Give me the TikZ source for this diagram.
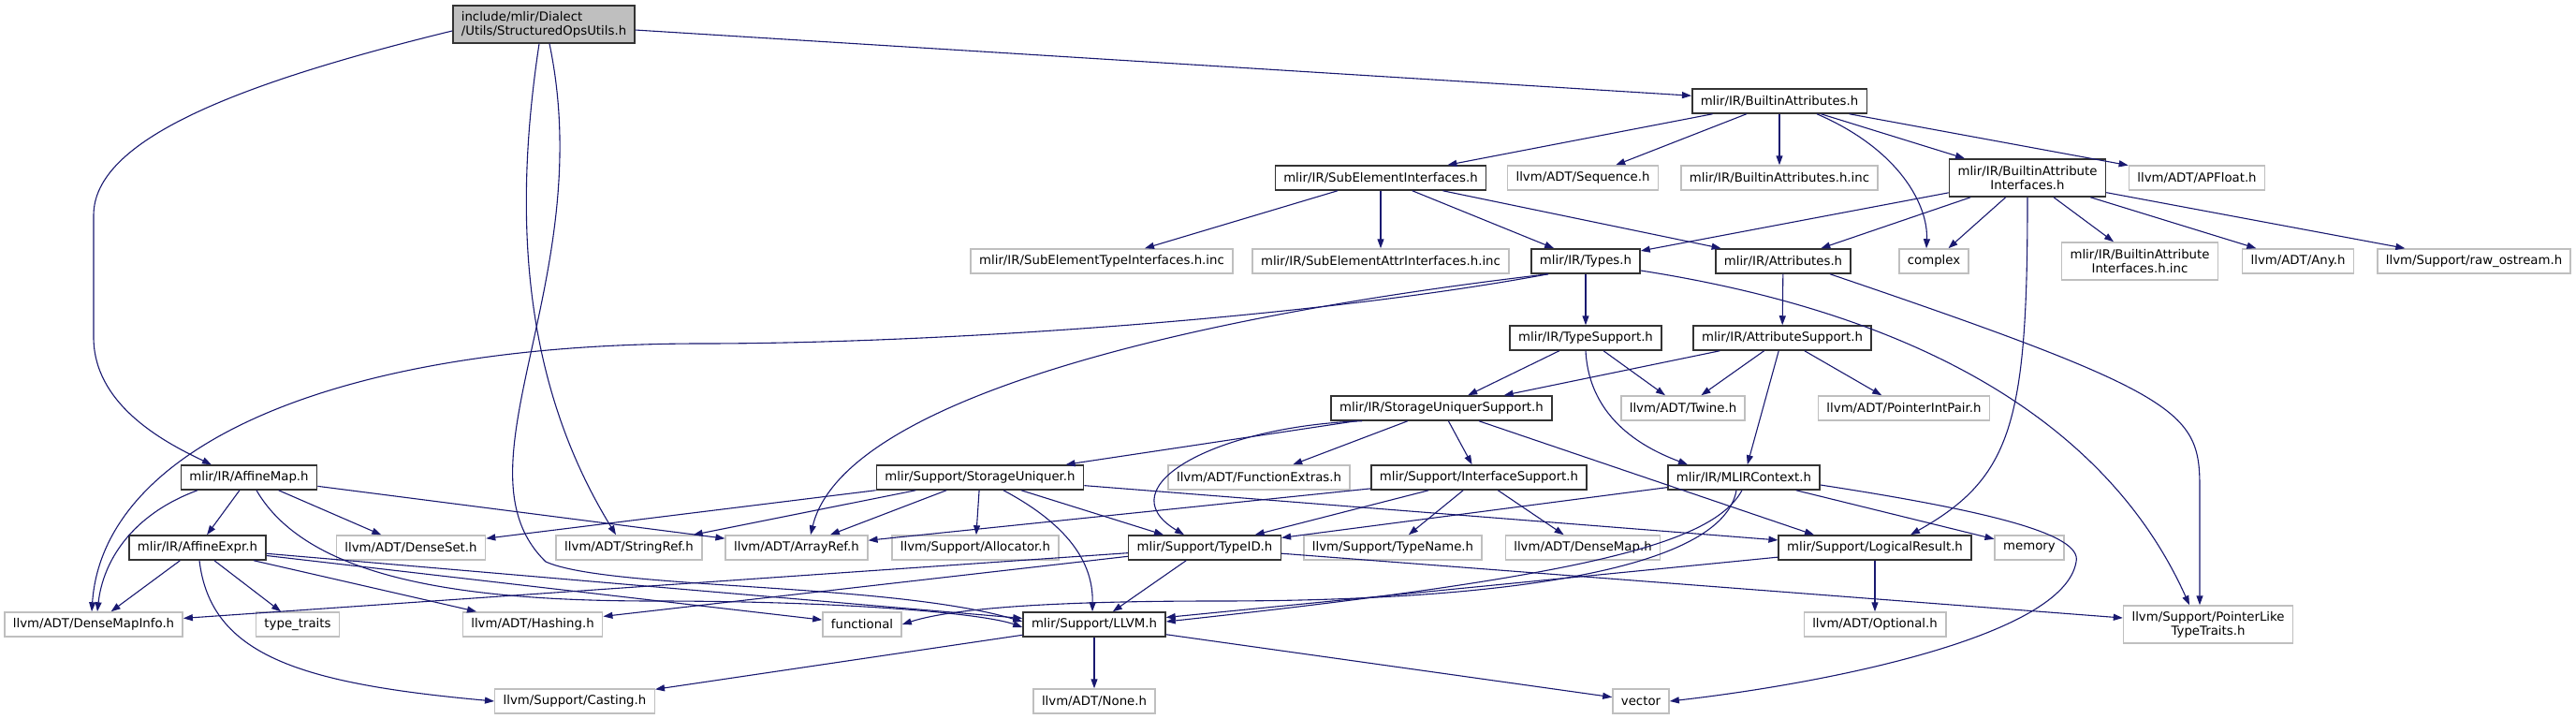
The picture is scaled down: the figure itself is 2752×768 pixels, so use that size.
\documentclass[tikz,border=0pt]{standalone}
\usepackage{fontspec}
\setmainfont{DejaVu Sans}
\usetikzlibrary{arrows.meta}
\definecolor{midnight}{HTML}{191970}
\begin{document}
\begin{tikzpicture}[x=1pt,y=-1pt,
        every node/.style={font=\fontsize{13.3}{15}\selectfont},
        doc/.style ={draw=black!80, line width=1.5pt, fill=white, inner xsep=9pt, inner ysep=0pt, minimum height=26pt},
        ext/.style ={doc, draw=black!25},
        twoline/.style={align=center, minimum height=40pt},
        mainbox/.style={doc, fill=black!25, align=left, minimum height=40pt},
        dep/.style ={draw=midnight, line width=1.1pt, -{Triangle[length=10pt,width=7pt]}}]
        \useasboundingbox (0,0) rectangle (2752,768);
        \node[mainbox] (main) at (581,26) {include/mlir/Dialect\\/Utils/StructuredOpsUtils.h};
        \node[doc] (ba) at (1901,108) {mlir/IR/BuiltinAttributes.h};
        \node[doc] (sei) at (1475,190) {mlir/IR/SubElementInterfaces.h};
        \node[ext] (seq) at (1691,190) {llvm/ADT/Sequence.h};
        \node[ext] (bainc) at (1901,190) {mlir/IR/BuiltinAttributes.h.inc};
        \node[doc, twoline] (bai) at (2166,190) {mlir/IR/BuiltinAttribute\\Interfaces.h};
        \node[ext] (apf) at (2347,190) {llvm/ADT/APFloat.h};
        \node[ext] (setinc) at (1177,279) {mlir/IR/SubElementTypeInterfaces.h.inc};
        \node[ext] (seainc) at (1475,279) {mlir/IR/SubElementAttrInterfaces.h.inc};
        \node[doc] (types) at (1694,279) {mlir/IR/Types.h};
        \node[doc] (attrs) at (1905,279) {mlir/IR/Attributes.h};
        \node[ext] (cplx) at (2066,279) {complex};
        \node[ext, twoline] (baiinc) at (2286,279) {mlir/IR/BuiltinAttribute\\Interfaces.h.inc};
        \node[ext] (any) at (2455,279) {llvm/ADT/Any.h};
        \node[ext] (ros) at (2643,279) {llvm/Support/raw\_ostream.h};
        \node[doc] (ts) at (1694,361) {mlir/IR/TypeSupport.h};
        \node[doc] (as) at (1904,361) {mlir/IR/AttributeSupport.h};
        \node[doc] (sus) at (1540,436) {mlir/IR/StorageUniquerSupport.h};
        \node[ext] (twine) at (1798,436) {llvm/ADT/Twine.h};
        \node[ext] (pip) at (2034,436) {llvm/ADT/PointerIntPair.h};
        \node[doc] (amap) at (266,510) {mlir/IR/AffineMap.h};
        \node[doc] (su) at (1047,510) {mlir/Support/StorageUniquer.h};
        \node[ext] (fe) at (1345,510) {llvm/ADT/FunctionExtras.h};
        \node[doc] (is) at (1580,510) {mlir/Support/InterfaceSupport.h};
        \node[doc] (ctx) at (1863,510) {mlir/IR/MLIRContext.h};
        \node[doc] (aexpr) at (211,585) {mlir/IR/AffineExpr.h};
        \node[ext] (dset) at (439,585) {llvm/ADT/DenseSet.h};
        \node[ext] (sref) at (672,585) {llvm/ADT/StringRef.h};
        \node[ext] (aref) at (851,585) {llvm/ADT/ArrayRef.h};
        \node[ext] (alloc) at (1042,585) {llvm/Support/Allocator.h};
        \node[doc] (tid) at (1287,585) {mlir/Support/TypeID.h};
        \node[ext] (tname) at (1488,585) {llvm/Support/TypeName.h};
        \node[ext] (dmap) at (1691,585) {llvm/ADT/DenseMap.h};
        \node[doc] (lres) at (2003,585) {mlir/Support/LogicalResult.h};
        \node[ext] (mem) at (2168,585) {memory};
        \node[ext] (dmi) at (100,667) {llvm/ADT/DenseMapInfo.h};
        \node[ext] (tt) at (318,667) {type\_traits};
        \node[ext] (hash) at (569,667) {llvm/ADT/Hashing.h};
        \node[ext] (func) at (921,667) {functional};
        \node[doc] (llvmh) at (1169,667) {mlir/Support/LLVM.h};
        \node[ext] (opt) at (2003,667) {llvm/ADT/Optional.h};
        \node[ext, twoline] (plt) at (2359,667) {llvm/Support/PointerLike\\TypeTraits.h};
        \node[ext] (cast) at (614,749) {llvm/Support/Casting.h};
        \node[ext] (none) at (1169,749) {llvm/ADT/None.h};
        \node[ext] (vec) at (1753,749) {vector};
% straight includes first, bent ones after
        \foreach \s/\t in {main/ba, ba/sei, ba/seq, ba/bainc, ba/bai, ba/apf, sei/setinc, sei/seainc, sei/types, sei/attrs,
            bai/types, bai/attrs, bai/cplx, bai/baiinc, bai/any, bai/ros, types/ts, attrs/as, ts/sus, ts/twine,
            as/sus, as/twine, as/ctx, as/pip, sus/su, sus/fe, sus/is, amap/aexpr, amap/dset, amap/aref,
            aexpr/dmi, aexpr/tt, aexpr/hash, aexpr/func, aexpr/llvmh, su/dset, su/sref, su/aref, su/alloc, su/tid,
            su/lres, is/aref, is/tid, is/tname, is/dmap, ctx/tid, ctx/mem, tid/dmi, tid/hash, tid/llvmh, tid/plt,
            lres/opt, lres/llvmh, llvmh/cast, llvmh/none, llvmh/vec}
            {\draw[dep] (\s) -- (\t);}
        \draw[dep] ([xshift=40]sus.south) -- ([xshift=-65]lres.north);
        \draw[dep] ([yshift=-7]main.west) .. controls (250,90) and (100,150) .. (100,230) -- (100,360) .. controls (100,430) and (170,470) .. ([xshift=-40]amap.north);
        \draw[dep] ([xshift=-5]main.south) .. controls (545,250) and (565,420) .. ([xshift=-14]sref.north);
        \draw[dep] ([xshift=6]main.south) .. controls (640,300) and (480,500) .. (583,600) .. controls (650,630) and (950,622) .. ([yshift=3]llvmh.west);
        \draw[dep] ([xshift=-40]types.south) .. controls (1400,340) and (1000,367) .. (750,367) .. controls (350,367) and (110,480) .. ([xshift=-2]dmi.north);
        \draw[dep] ([xshift=-40]types.south) .. controls (1250,340) and (900,430) .. ([xshift=15]aref.north);
        \draw[dep] ([xshift=-55]amap.south) .. controls (140,550) and (110,600) .. ([xshift=4]dmi.north);
        \draw[dep] ([xshift=8]amap.south) .. controls (330,620) and (500,642) .. (700,642) .. controls (900,642) and (1050,655) .. ([yshift=-3]llvmh.west);
        \draw[dep] ([xshift=2]aexpr.south) .. controls (225,700) and (320,730) .. (cast.west);
        \draw[dep] ([xshift=25]su.south) .. controls (1140,560) and (1168,600) .. ([xshift=-2]llvmh.north);
        \draw[dep] ([xshift=-85]sus.south) .. controls (1300,455) and (1180,520) .. ([xshift=-22]tid.north);
        \draw[dep] (ts.south) .. controls (1698,450) and (1760,480) .. ([xshift=-60]ctx.north);
        \draw[dep] ([xshift=-8]ctx.south) .. controls (1840,610) and (1600,642) .. (1300,642) .. controls (1100,642) and (1010,652) .. (func.east);
        \draw[dep] ([xshift=-2]ctx.south) .. controls (1830,580) and (1700,615) .. ([yshift=3]llvmh.east);
        \draw[dep] ([yshift=-8]ctx.east) .. controls (2120,545) and (2225,570) .. (2218,600) .. controls (2205,680) and (1950,730) .. (vec.east);
        \draw[dep] (bai.south) .. controls (2166,450) and (2150,510) .. ([xshift=38]lres.north);
        \draw[dep] ([xshift=50]attrs.south) .. controls (2330,420) and (2350,440) .. (2350,520) -- ([xshift=-9]plt.north);
        \draw[dep] ([yshift=-10]types.east) .. controls (2080,340) and (2260,470) .. ([xshift=-20]plt.north);
        \draw[dep] ([xshift=40]ba.south) .. controls (2030,160) and (2060,220) .. ([xshift=-8]cplx.north);
    \end{tikzpicture}
\end{document}
